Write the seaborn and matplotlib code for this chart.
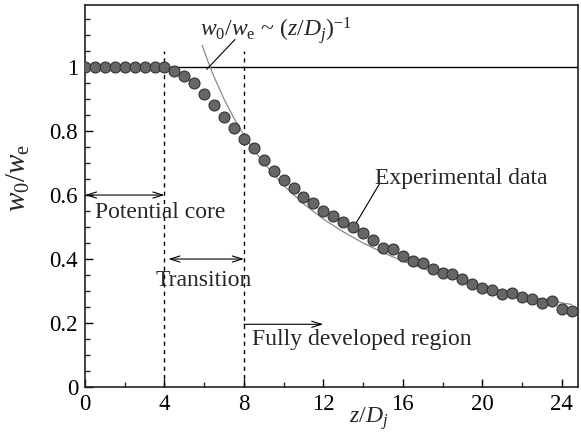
import numpy as np
import pandas as pd
import matplotlib
matplotlib.use("Agg")
import matplotlib.pyplot as plt
import seaborn as sns
from matplotlib.ticker import MultipleLocator, FixedLocator, FixedFormatter

# ---- data ----
z_dj = [0.0, 0.5, 1.0, 1.5, 2.0, 2.5, 3.0, 3.5, 4.0, 4.5,
        5.0, 5.5, 6.0, 6.5, 7.0, 7.5, 8.0, 8.5, 9.0, 9.5,
        10.0, 10.5, 11.0, 11.5, 12.0, 12.5, 13.0, 13.5, 14.0, 14.5,
        15.0, 15.5, 16.0, 16.5, 17.0, 17.5, 18.0, 18.5, 19.0, 19.5,
        20.0, 20.5, 21.0, 21.5, 22.0, 22.5, 23.0, 23.5, 24.0, 24.5]
w_ratio = [1.0, 1.0, 1.0, 1.0, 1.0, 1.0, 1.0, 1.0, 1.0, 0.988,
           0.972, 0.949, 0.916, 0.880, 0.843, 0.809, 0.774, 0.747, 0.708, 0.674,
           0.646, 0.622, 0.595, 0.576, 0.551, 0.534, 0.517, 0.501, 0.480, 0.459,
           0.433, 0.430, 0.411, 0.394, 0.388, 0.369, 0.357, 0.353, 0.338, 0.321,
           0.310, 0.303, 0.291, 0.293, 0.282, 0.274, 0.262, 0.270, 0.243, 0.238]

# gray power-law curve
fit_x = [5.9, 6.2, 6.5, 7.0, 7.5, 8.0, 8.5, 9.0, 10.0, 11.0, 12.0, 13.0, 14.0,
         15.0, 16.0, 17.0, 18.0, 19.0, 20.0, 21.0, 22.0, 23.0, 24.0, 24.5]
fit_y = [1.068, 1.016, 0.969, 0.900, 0.840, 0.788, 0.741, 0.700, 0.630, 0.573,
         0.525, 0.485, 0.450, 0.420, 0.394, 0.371, 0.350, 0.332, 0.315, 0.300,
         0.286, 0.274, 0.263, 0.258]

x_ticks = [0, 4, 8, 12, 16, 20, 24]
y_ticks = [0, 0.2, 0.4, 0.6, 0.8, 1.0]
y_tick_labels = ["0", "0.2", "0.4", "0.6", "0.8", "1"]

df = pd.DataFrame({"z": z_dj, "w": w_ratio})
fit = pd.DataFrame({"z": fit_x, "w": fit_y})

sns.set_style("ticks")
plt.rcParams["font.family"] = ["Liberation Serif", "DejaVu Serif"]
plt.rcParams["mathtext.fontset"] = "custom"
plt.rcParams["mathtext.rm"] = "Liberation Serif"
plt.rcParams["mathtext.it"] = "Liberation Serif:italic"

fig = plt.figure(figsize=(5.81, 4.36), dpi=100)
ax = fig.add_axes([85 / 581, (436 - 387) / 436, (578 - 85) / 581, (387 - 5) / 436])

ax.set_xlim(0, 24.82)
ax.set_ylim(0, 1.194)

# reference lines
ax.axhline(1.0, color="black", lw=1.0, zorder=1)
for xv in (4, 8):
    ax.plot([xv, xv], [0, 1.05], color="black", lw=1.0, ls=(0, (3, 3)), zorder=1)

sns.lineplot(data=fit, x="z", y="w", ax=ax, color="#8a8a8a", lw=0.9,
             zorder=2, legend=False)
sns.scatterplot(data=df, x="z", y="w", ax=ax, s=62, color="#666666",
                edgecolor="#333333", linewidth=0.8, zorder=3, legend=False)

# ticks
ax.xaxis.set_major_locator(FixedLocator(x_ticks))
ax.xaxis.set_minor_locator(MultipleLocator(2))
ax.yaxis.set_major_locator(FixedLocator(y_ticks))
ax.yaxis.set_major_formatter(FixedFormatter(y_tick_labels))
ax.yaxis.set_minor_locator(MultipleLocator(0.05))
ax.tick_params(which="major", direction="in", length=6, width=1.0,
               labelsize=16.5, colors="black", pad=5)
ax.tick_params(which="minor", direction="in", length=3.8, width=1.0)
ax.tick_params(axis="x", which="both", top=False)
ax.tick_params(axis="y", which="both", right=False)
for s in ax.spines.values():
    s.set_linewidth(1.2)
    s.set_color("#222222")
    s.set_visible(True)

ax.set_xlabel("$z/D_j$", fontsize=17)
ax.set_ylabel("$w_0/w_\\mathrm{e}$", fontsize=21)
ax.xaxis.set_label_coords(0.576, -0.048)
ax.yaxis.set_label_coords(-0.107, 0.547)

# annotations
arrow_kw = dict(arrowstyle="<->,head_length=0.7,head_width=0.22", lw=0.8, color="black",
                shrinkA=0, shrinkB=0)
ax.annotate("", xy=(0, 0.6), xytext=(4, 0.6), arrowprops=arrow_kw)
ax.text(0.5, 0.545, "Potential core", fontsize=17, ha="left", va="center")

ax.annotate("", xy=(4.2, 0.4), xytext=(8, 0.4), arrowprops=arrow_kw)
ax.text(6.0, 0.334, "Transition", fontsize=17, ha="center", va="center")

ax.annotate("", xy=(12.0, 0.196), xytext=(8, 0.196),
            arrowprops=dict(arrowstyle="->,head_length=0.7,head_width=0.22", lw=0.8,
                            color="black", shrinkA=0, shrinkB=0))
ax.text(8.4, 0.147, "Fully developed region", fontsize=17, ha="left", va="center")

ax.text(14.6, 0.653, "Experimental data", fontsize=17, ha="left", va="center")
ax.plot([14.85, 13.5], [0.6375, 0.497], color="black", lw=0.8)

ax.text(5.8, 1.115, "$w_0/w_\\mathrm{e}$ ~ $(z/D_j)^{-1}$", fontsize=17,
        ha="left", va="center")
ax.plot([7.55, 6.13], [1.086, 0.993], color="black", lw=0.8)

fig.savefig("out.png", dpi=100)
